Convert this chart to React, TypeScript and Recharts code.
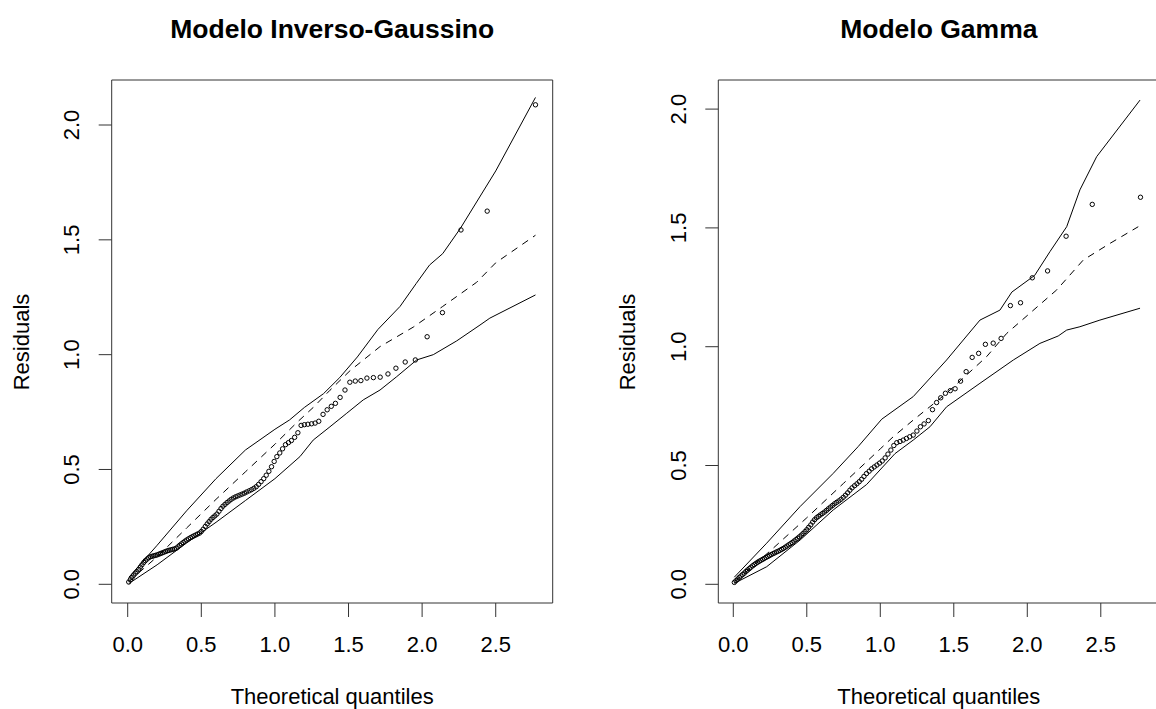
import { ComposedChart, XAxis, YAxis, Scatter, Line, ReferenceArea } from 'recharts';

// half-normal theoretical quantiles (n = 111), read along the x axis
const quantiles = [
  0.007, 0.018, 0.030, 0.041, 0.052, 0.063, 0.075, 0.086, 0.097, 0.109,
  0.120, 0.132, 0.143, 0.154, 0.166, 0.177, 0.188, 0.200, 0.211, 0.223,
  0.235, 0.246, 0.258, 0.270, 0.281, 0.293, 0.305, 0.317, 0.329, 0.341,
  0.353, 0.365, 0.377, 0.389, 0.401, 0.413, 0.426, 0.438, 0.450, 0.463,
  0.475, 0.488, 0.500, 0.513, 0.527, 0.540, 0.553, 0.566, 0.579, 0.592,
  0.606, 0.620, 0.634, 0.647, 0.661, 0.675, 0.689, 0.703, 0.718, 0.733,
  0.748, 0.763, 0.778, 0.793, 0.808, 0.825, 0.841, 0.857, 0.873, 0.889,
  0.906, 0.924, 0.941, 0.959, 0.977, 0.995, 1.013, 1.033, 1.052, 1.072,
  1.092, 1.112, 1.134, 1.156, 1.178, 1.200, 1.224, 1.249, 1.273, 1.298,
  1.327, 1.355, 1.383, 1.411, 1.443, 1.476, 1.509, 1.546, 1.584, 1.625,
  1.669, 1.715, 1.768, 1.822, 1.885, 1.954, 2.034, 2.138, 2.264, 2.442,
  2.770,
];

const residualsIG = [
  0.010, 0.020, 0.030, 0.040, 0.048, 0.055, 0.065, 0.075, 0.085, 0.095,
  0.103, 0.110, 0.116, 0.120, 0.122, 0.124, 0.126, 0.128, 0.131, 0.134,
  0.137, 0.140, 0.143, 0.146, 0.148, 0.150, 0.152, 0.154, 0.157, 0.163,
  0.170, 0.176, 0.182, 0.188, 0.193, 0.198, 0.203, 0.207, 0.211, 0.215,
  0.219, 0.223, 0.230, 0.240, 0.252, 0.263, 0.273, 0.283, 0.291, 0.298,
  0.306, 0.318, 0.330, 0.340, 0.348, 0.356, 0.363, 0.370, 0.376, 0.381,
  0.385, 0.389, 0.393, 0.397, 0.402, 0.407, 0.412, 0.418, 0.425, 0.435,
  0.447, 0.460, 0.475, 0.492, 0.512, 0.535, 0.556, 0.572, 0.590, 0.608,
  0.617, 0.626, 0.640, 0.660, 0.692, 0.695, 0.697, 0.699, 0.702, 0.710,
  0.740, 0.760, 0.775, 0.788, 0.814, 0.846, 0.880, 0.885, 0.887, 0.898,
  0.900, 0.902, 0.916, 0.941, 0.968, 0.977, 1.078, 1.183, 1.543, 1.625,
  2.088,
];

const residualsGamma = [
  0.008, 0.015, 0.022, 0.029, 0.035, 0.041, 0.047, 0.054, 0.060, 0.066,
  0.072, 0.078, 0.083, 0.088, 0.093, 0.097, 0.101, 0.105, 0.109, 0.113,
  0.117, 0.121, 0.125, 0.129, 0.132, 0.136, 0.139, 0.143, 0.147, 0.151,
  0.156, 0.161, 0.166, 0.171, 0.176, 0.182, 0.188, 0.194, 0.200, 0.207,
  0.214, 0.222, 0.230, 0.240, 0.250, 0.262, 0.272, 0.280, 0.286, 0.292,
  0.298, 0.304, 0.311, 0.318, 0.325, 0.332, 0.339, 0.345, 0.351, 0.358,
  0.366, 0.375, 0.385, 0.396, 0.406, 0.415, 0.423, 0.432, 0.442, 0.454,
  0.466, 0.476, 0.486, 0.494, 0.502, 0.510, 0.519, 0.532, 0.548, 0.565,
  0.584, 0.596, 0.601, 0.607, 0.614, 0.621, 0.628, 0.645, 0.663, 0.675,
  0.689, 0.735, 0.765, 0.785, 0.804, 0.815, 0.823, 0.855, 0.895, 0.955,
  0.972, 1.010, 1.015, 1.035, 1.173, 1.185, 1.290, 1.319, 1.465, 1.599,
  1.629,
];

// simulated envelopes (upper, median, lower), read as x / y pairs
const upperIGX = [0.007, 0.2, 0.4, 0.6, 0.8, 1.0, 1.1, 1.2, 1.33, 1.44, 1.56, 1.7, 1.85, 1.96, 2.05, 2.14, 2.26, 2.5, 2.77];
const upperIG = [0.03, 0.17, 0.32, 0.46, 0.585, 0.675, 0.716, 0.77, 0.83, 0.9, 0.99, 1.11, 1.21, 1.31, 1.39, 1.44, 1.55, 1.8, 2.12];
const medianIGX = [0.007, 0.2, 0.4, 0.6, 0.8, 1.0, 1.15, 1.26, 1.374, 1.51, 1.714, 1.94, 2.14, 2.37, 2.5, 2.77];
const medianIG = [0.012, 0.12, 0.245, 0.37, 0.49, 0.61, 0.705, 0.77, 0.845, 0.93, 1.035, 1.12, 1.21, 1.315, 1.4, 1.52];
const lowerIGX = [0.007, 0.2, 0.4, 0.6, 0.8, 1.0, 1.17, 1.26, 1.374, 1.488, 1.6, 1.714, 1.827, 1.963, 2.076, 2.235, 2.393, 2.46, 2.77];
const lowerIG = [0.003, 0.085, 0.18, 0.27, 0.365, 0.46, 0.556, 0.628, 0.686, 0.745, 0.803, 0.846, 0.904, 0.977, 1.0, 1.06, 1.129, 1.159, 1.26];

const upperGammaX = [0.007, 0.227, 0.454, 0.68, 0.85, 1.01, 1.224, 1.451, 1.678, 1.814, 1.895, 2.05, 2.154, 2.268, 2.358, 2.472, 2.767];
const upperGamma = [0.03, 0.173, 0.327, 0.467, 0.58, 0.695, 0.79, 0.944, 1.112, 1.154, 1.23, 1.3, 1.4, 1.505, 1.66, 1.8, 2.038];
const medianGammaX = [0.007, 0.25, 0.5, 0.75, 1.0, 1.088, 1.224, 1.451, 1.723, 1.86, 2.018, 2.2, 2.381, 2.563, 2.755];
const medianGamma = [0.01, 0.14, 0.28, 0.425, 0.57, 0.621, 0.691, 0.804, 0.958, 1.056, 1.141, 1.239, 1.365, 1.435, 1.505];
const lowerGammaX = [0.007, 0.227, 0.454, 0.68, 0.907, 1.1, 1.224, 1.338, 1.451, 1.678, 1.905, 2.086, 2.21, 2.268, 2.358, 2.494, 2.767];
const lowerGamma = [0.004, 0.074, 0.186, 0.313, 0.42, 0.55, 0.607, 0.663, 0.747, 0.846, 0.944, 1.014, 1.045, 1.07, 1.084, 1.112, 1.162];

const xTicks = [0, 0.5, 1, 1.5, 2, 2.5];
const yTicks = [0, 0.5, 1, 1.5, 2];

const FONT = '"Liberation Sans", Arial, Helvetica, sans-serif';
const H = 709;
const PLOT_TOP = 80;
const PLOT_BOTTOM = 603;
const AXIS_W = 60;
const AXIS_H = 30;

type PanelProps = {
  left: number;
  width: number;
  plotLeft: number;
  plotRight: number;
  title: string;
  residuals: number[];
  upper: [number[], number[]];
  median: [number[], number[]];
  lower: [number[], number[]];
  xDomain: [number, number];
  yDomain: [number, number];
};

function Panel({ left, width, plotLeft, plotRight, title, residuals, upper, median, lower, xDomain, yDomain }: PanelProps) {
  const points = quantiles.map((x, i) => ({ x, y: residuals[i] }));
  const env = ([xs, ys]: [number[], number[]]) => xs.map((x, i) => ({ x, y: ys[i] }));

  const XTick = (props: any) => {
    const { x, payload } = props;
    return (
      <g>
        <line x1={x} x2={x} y1={PLOT_BOTTOM} y2={PLOT_BOTTOM + 14} stroke="#333" strokeWidth={1} />
        <text x={x} y={644} textAnchor="middle" dominantBaseline="central" fontSize={22} fontFamily={FONT} fill="#000">
          {Number(payload.value).toFixed(1)}
        </text>
      </g>
    );
  };

  const YTick = (props: any) => {
    const { y, payload } = props;
    const lx = plotLeft - 40;
    return (
      <g>
        <line x1={plotLeft - 13} x2={plotLeft} y1={y} y2={y} stroke="#333" strokeWidth={1} />
        <text x={lx} y={y} transform={`rotate(-90 ${lx} ${y})`} textAnchor="middle" dominantBaseline="central" fontSize={22} fontFamily={FONT} fill="#000">
          {Number(payload.value).toFixed(1)}
        </text>
      </g>
    );
  };

  const plotW = plotRight - plotLeft;

  return (
    <div style={{ position: 'absolute', left, top: 0, width, height: H }}>
      <div style={{ position: 'absolute', left: plotLeft, width: plotW, top: 12, height: 34, lineHeight: '34px', textAlign: 'center', fontFamily: FONT, fontWeight: 'bold', fontSize: 26.5, color: '#000' }}>
        {title}
      </div>
      <ComposedChart
        width={width}
        height={H}
        margin={{ top: PLOT_TOP, bottom: H - PLOT_BOTTOM - AXIS_H, left: plotLeft - AXIS_W, right: width - plotRight }}
      >
        <XAxis
          type="number"
          dataKey="x"
          domain={xDomain}
          allowDataOverflow
          ticks={xTicks}
          interval={0}
          height={AXIS_H}
          axisLine={false}
          tickLine={false}
          tick={<XTick />}
        />
        <YAxis
          type="number"
          dataKey="y"
          domain={yDomain}
          allowDataOverflow
          ticks={yTicks}
          interval={0}
          width={AXIS_W}
          axisLine={false}
          tickLine={false}
          tick={<YTick />}
        />
        <ReferenceArea x1={xDomain[0]} x2={xDomain[1]} y1={yDomain[0]} y2={yDomain[1]} fill="none" fillOpacity={0} stroke="#333" strokeWidth={1} ifOverflow="visible" />
        <Line data={env(upper)} dataKey="y" type="linear" stroke="#000" strokeWidth={1} dot={false} isAnimationActive={false} />
        <Line data={env(median)} dataKey="y" type="linear" stroke="#000" strokeWidth={1} strokeDasharray="7 6" dot={false} isAnimationActive={false} />
        <Line data={env(lower)} dataKey="y" type="linear" stroke="#000" strokeWidth={1} dot={false} isAnimationActive={false} />
        <Scatter
          data={points}
          isAnimationActive={false}
          shape={(p: any) => <circle cx={p.cx} cy={p.cy} r={2.2} fill="none" stroke="#000" strokeWidth={1} />}
        />
      </ComposedChart>
      <div style={{ position: 'absolute', left: plotLeft, width: plotW, top: 680, height: 34, lineHeight: '34px', textAlign: 'center', fontFamily: FONT, fontSize: 22, color: '#000' }}>
        Theoretical quantiles
      </div>
      <div style={{ position: 'absolute', left: plotLeft - 90 - 100, top: (PLOT_TOP + PLOT_BOTTOM) / 2 - 17, width: 200, height: 34, lineHeight: '34px', textAlign: 'center', fontFamily: FONT, fontSize: 22, color: '#000', transform: 'rotate(-90deg)' }}>
        Residuals
      </div>
    </div>
  );
}

export default function App() {
  return (
    <div style={{ position: 'absolute', left: 0, top: 0, width: 1156, height: H, background: '#fff', overflow: 'hidden' }}>
      <Panel
        left={0}
        width={578}
        plotLeft={111.7}
        plotRight={552.7}
        title="Modelo Inverso-Gaussino"
        residuals={residualsIG}
        upper={[upperIGX, upperIG]}
        median={[medianIGX, medianIG]}
        lower={[lowerIGX, lowerIG]}
        xDomain={[-0.1087, 2.887]}
        yDomain={[-0.0814, 2.196]}
      />
      <Panel
        left={578}
        width={600}
        plotLeft={140.3}
        plotRight={581.3}
        title="Modelo Gamma"
        residuals={residualsGamma}
        upper={[upperGammaX, upperGamma]}
        median={[medianGammaX, medianGamma]}
        lower={[lowerGammaX, lowerGamma]}
        xDomain={[-0.102, 2.898]}
        yDomain={[-0.0787, 2.1225]}
      />
    </div>
  );
}
